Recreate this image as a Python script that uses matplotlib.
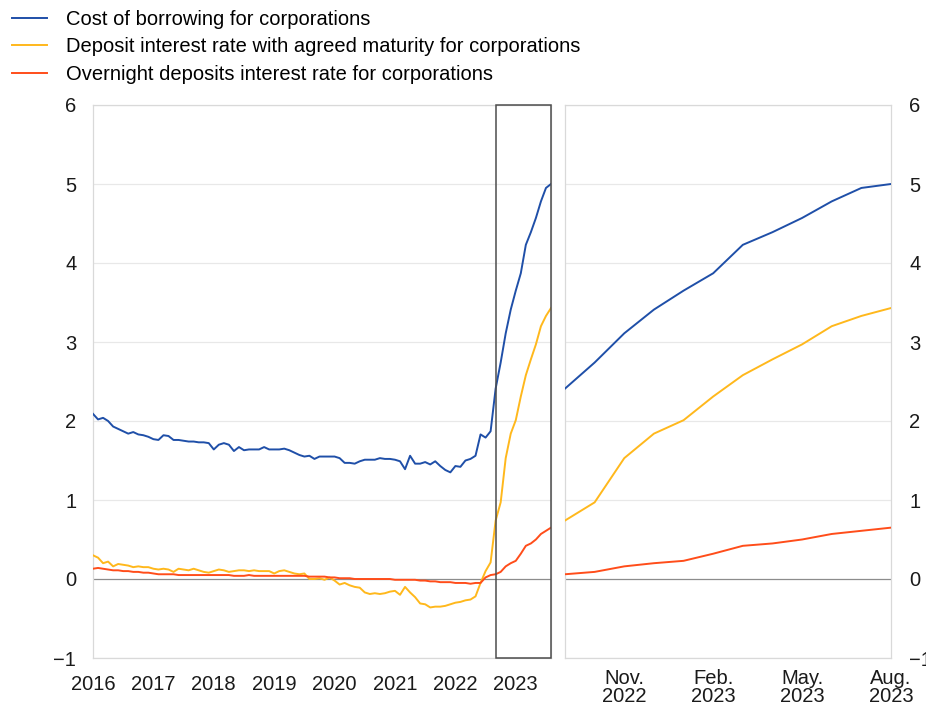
import matplotlib
matplotlib.use("Agg")
import matplotlib.pyplot as plt
from matplotlib.patches import Rectangle
import numpy as np

plt.rcParams['font.family'] = ['Liberation Sans', 'DejaVu Sans']
plt.rcParams['font.size'] = 14.5

# monthly data, Jan 2016 - Aug 2023
borrowing = [
    2.09, 2.02, 2.04, 2.00, 1.93, 1.90, 1.87, 1.84, 1.86, 1.83, 1.82, 1.80,  # 2016
    1.77, 1.76, 1.82, 1.81, 1.76, 1.76, 1.75, 1.74, 1.74, 1.73, 1.73, 1.72,  # 2017
    1.64, 1.70, 1.72, 1.70, 1.62, 1.67, 1.63, 1.64, 1.64, 1.64, 1.67, 1.64,  # 2018
    1.64, 1.64, 1.65, 1.63, 1.60, 1.57, 1.55, 1.56, 1.52, 1.55, 1.55, 1.55,  # 2019
    1.55, 1.53, 1.47, 1.47, 1.46, 1.49, 1.51, 1.51, 1.51, 1.53, 1.52, 1.52,  # 2020
    1.51, 1.49, 1.39, 1.56, 1.46, 1.46, 1.48, 1.45, 1.49, 1.43, 1.38, 1.35,  # 2021
    1.43, 1.42, 1.50, 1.52, 1.56, 1.83, 1.79, 1.87,                          # 2022 Jan-Aug
    2.41, 2.74, 3.11, 3.41, 3.65, 3.87, 4.23, 4.39, 4.57, 4.78, 4.95, 5.00,  # Sep 2022 - Aug 2023
]
agreed = [
    0.30, 0.27, 0.20, 0.22, 0.16, 0.19, 0.18, 0.17, 0.15, 0.16, 0.15, 0.15,
    0.13, 0.12, 0.13, 0.12, 0.09, 0.13, 0.12, 0.11, 0.13, 0.11, 0.09, 0.08,
    0.10, 0.12, 0.11, 0.09, 0.10, 0.11, 0.11, 0.10, 0.11, 0.10, 0.10, 0.10,
    0.07, 0.10, 0.11, 0.09, 0.07, 0.06, 0.07, 0.00, 0.00, 0.01, -0.01, 0.02,
    -0.02, -0.07, -0.05, -0.08, -0.10, -0.11, -0.17, -0.19, -0.18, -0.19, -0.18, -0.16,
    -0.15, -0.20, -0.10, -0.17, -0.23, -0.31, -0.32, -0.36, -0.35, -0.35, -0.34, -0.32,
    -0.30, -0.29, -0.27, -0.26, -0.22, -0.05, 0.10, 0.21,
    0.74, 0.97, 1.53, 1.84, 2.01, 2.31, 2.58, 2.78, 2.97, 3.20, 3.33, 3.43,
]
overnight = [
    0.13, 0.14, 0.13, 0.12, 0.11, 0.11, 0.10, 0.10, 0.09, 0.09, 0.08, 0.08,
    0.07, 0.06, 0.06, 0.06, 0.06, 0.05, 0.05, 0.05, 0.05, 0.05, 0.05, 0.05,
    0.05, 0.05, 0.05, 0.05, 0.04, 0.04, 0.04, 0.05, 0.04, 0.04, 0.04, 0.04,
    0.04, 0.04, 0.04, 0.04, 0.04, 0.04, 0.04, 0.03, 0.03, 0.03, 0.03, 0.02,
    0.02, 0.01, 0.01, 0.01, 0.00, 0.00, 0.00, 0.00, 0.00, 0.00, 0.00, 0.00,
    -0.01, -0.01, -0.01, -0.01, -0.01, -0.02, -0.02, -0.03, -0.03, -0.04, -0.04, -0.04,
    -0.05, -0.05, -0.05, -0.06, -0.05, -0.05, 0.02, 0.05,
    0.06, 0.09, 0.16, 0.20, 0.23, 0.32, 0.42, 0.45, 0.50, 0.57, 0.61, 0.65,
]
labels = ["Cost of borrowing for corporations",
          "Deposit interest rate with agreed maturity for corporations",
          "Overnight deposits interest rate for corporations"]
colors = ["#1f4fa8", "#ffb81c", "#ff4d1a"]

year_labels = ["2016", "2017", "2018", "2019", "2020", "2021", "2022", "2023"]
zoom_labels = ["Nov.\n2022", "Feb.\n2023", "May.\n2023", "Aug.\n2023"]

months = np.arange(len(borrowing))
series = [borrowing, agreed, overnight]
zoom_start = 80  # Sep 2022

fig = plt.figure(figsize=(9.26, 7.09), dpi=100)
ax1 = fig.add_axes([93 / 926, 1 - 658 / 709, 458 / 926, 553 / 709])
ax2 = fig.add_axes([565 / 926, 1 - 658 / 709, 326 / 926, 553 / 709])

for ax in (ax1, ax2):
    ax.set_ylim(-1, 6)
    ax.set_yticks(range(-1, 7))
    for v in range(-1, 7):
        if v != 0:
            ax.axhline(v, color="#e8e8e8", lw=0.9, zorder=0)
    ax.axhline(0, color="#8c8c8c", lw=0.9, zorder=1)
    for s in ax.spines.values():
        s.set_color("#d9d9d9")
        s.set_linewidth(0.9)
    ax.tick_params(length=0, colors="#1a1a1a", labelsize=14.5)

lines = []
for vals, c, lab in zip(series, colors, labels):
    l, = ax1.plot(months, vals, color=c, lw=1.4, label=lab, zorder=3)
    lines.append(l)
    ax2.plot(months[zoom_start:], vals[zoom_start:], color=c, lw=1.4, zorder=3)

ax1.set_xlim(0, months[-1])
ax1.set_xticks(np.arange(0, 96, 12))
ax1.set_xticklabels(year_labels)
ax1.tick_params(axis="y", pad=12)
ax1.tick_params(axis="x", pad=12)

ax2.set_xlim(zoom_start, months[-1])
ax2.set_xticks([82, 85, 88, 91])
ax2.set_xticklabels(zoom_labels, linespacing=0.95)
ax2.yaxis.tick_right()
ax2.tick_params(axis="y", pad=13)
ax2.tick_params(axis="x", pad=8)

ax1.add_patch(Rectangle((zoom_start, -1), months[-1] - zoom_start, 7, fill=False,
                        edgecolor="#4d4d4d", lw=1.1, clip_on=False, zorder=5))

fig.legend(handles=lines, loc="upper left", bbox_to_anchor=(0.005, 0.996),
           frameon=False, fontsize=14.5, handlelength=1.75, handletextpad=0.95,
           labelspacing=0.42, borderpad=0.25, borderaxespad=0.1)

fig.savefig("out.png", dpi=100)
